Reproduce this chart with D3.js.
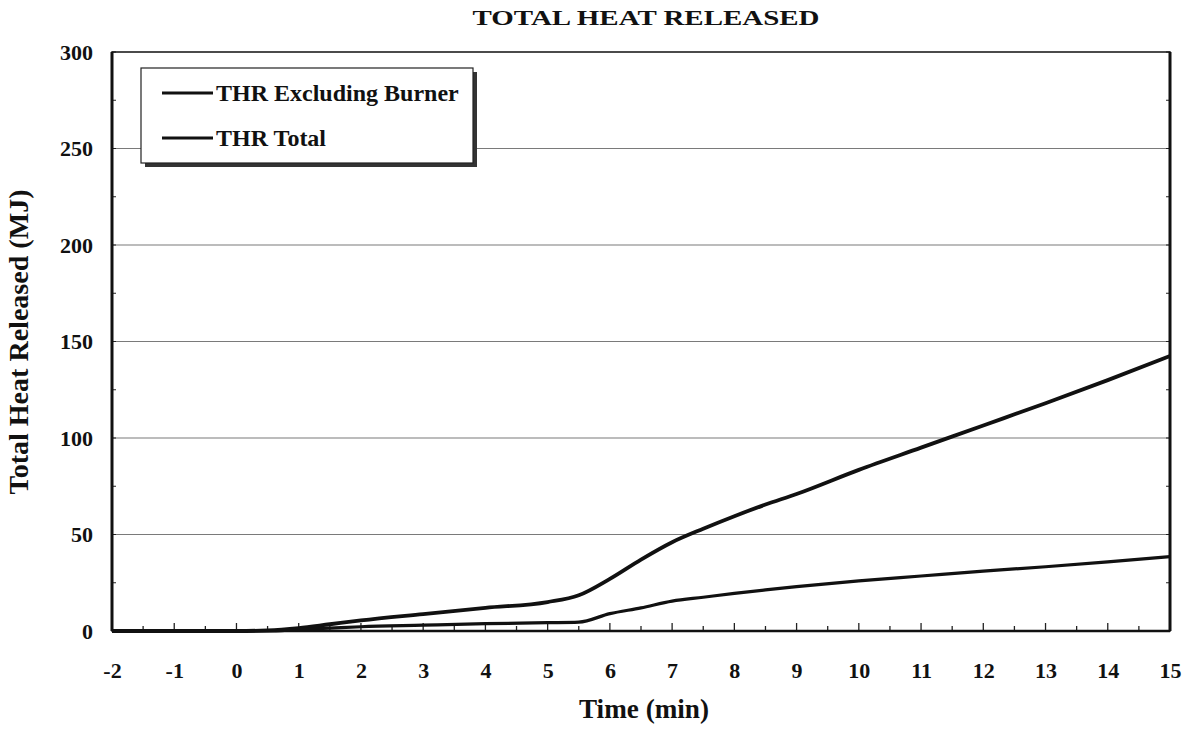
<!DOCTYPE html>
<html><head><meta charset="utf-8">
<script src="https://cdn.jsdelivr.net/npm/d3@7"></script>
<style>body{margin:0;background:#fff;} text{font-family:"Liberation Serif","Times New Roman",serif;font-weight:bold;fill:#111;}</style>
</head><body>
<svg id="c" width="1194" height="731"></svg>
<script>
const timeMin = [-2,-1.5,-1,-0.5,0,0.5,1,1.5,2,3,4,5,5.5,6,6.5,7,7.5,8,8.5,9,10,11,12,13,14,15];
const thrTotal = [0,0,0,0,0,0.3,1.5,3.5,5.5,8.8,12,15,18.5,27,37,46,53,59.5,65.5,71,83.5,95,106.5,118,130,142.5];
const thrExclBurner = [0,0,0,0,0,0,0.8,1.5,2.2,3,3.8,4.3,4.6,9,12,15.5,17.5,19.5,21.3,23,26,28.5,31,33.3,35.8,38.5];
const xTicks = [-2,-1,0,1,2,3,4,5,6,7,8,9,10,11,12,13,14,15];
const yTicks = [0,50,100,150,200,250,300];
const legendLabels = ["THR Excluding Burner","THR Total"];
const titleText = "TOTAL HEAT RELEASED";
const xLabel = "Time (min)";
const yLabel = "Total Heat Released (MJ)";

const svg = d3.select("#c");
const L=112,R=1170,T=52,B=631;
const x = d3.scaleLinear().domain([-2,15]).range([L,R]);
const y = d3.scaleLinear().domain([0,300]).range([B,T]);
const F = '"Liberation Serif","Times New Roman",serif';

// gridlines
svg.append("g").selectAll("line").data(yTicks.filter(v=>v>0&&v<300)).join("line")
  .attr("x1",L).attr("x2",R).attr("y1",d=>y(d)).attr("y2",d=>y(d))
  .attr("stroke","#7a7a7a").attr("stroke-width",1.2);

// minor ticks
const yMinor = d3.range(0,301,25);
svg.append("g").selectAll("line").data(yMinor).join("line")
  .attr("x1",L).attr("x2",L+4).attr("y1",d=>y(d)).attr("y2",d=>y(d)).attr("stroke","#222");
svg.append("g").selectAll("line").data(yMinor).join("line")
  .attr("x1",R).attr("x2",R-4).attr("y1",d=>y(d)).attr("y2",d=>y(d)).attr("stroke","#222");
const xMinor = d3.range(-2,15.01,0.5);
svg.append("g").selectAll("line").data(xMinor).join("line")
  .attr("x1",d=>x(d)).attr("x2",d=>x(d)).attr("y1",B).attr("y2",d=>B-(Number.isInteger(d)?8:5)).attr("stroke","#222").attr("stroke-width",1.3);

// frame
svg.append("rect").attr("x",L).attr("y",T).attr("width",R-L).attr("height",B-T)
  .attr("fill","none").attr("stroke","#111").attr("stroke-width",1.5);
svg.append("line").attr("x1",L).attr("x2",L).attr("y1",T).attr("y2",B).attr("stroke","#111").attr("stroke-width",3);
svg.append("line").attr("x1",R).attr("x2",R).attr("y1",T).attr("y2",B).attr("stroke","#111").attr("stroke-width",3);
svg.append("line").attr("x1",L).attr("x2",R).attr("y1",B).attr("y2",B).attr("stroke","#111").attr("stroke-width",2.5);

// axis tick labels
const xAxis = svg.append("g").attr("transform",`translate(0,${B})`)
  .call(d3.axisBottom(x).tickValues(xTicks).tickSize(0).tickPadding(31).tickFormat(d=>String(d)));
xAxis.select(".domain").remove();
xAxis.selectAll("text").style("font-size","22px").style("font-family",F).style("font-weight","bold");
const yAxis = svg.append("g").attr("transform",`translate(${L},0)`)
  .call(d3.axisLeft(y).tickValues(yTicks).tickSize(0).tickPadding(19));
yAxis.select(".domain").remove();
yAxis.selectAll("text").style("font-size","22px").style("font-family",F).style("font-weight","bold");

// lines
const line = d3.line().x((d,i)=>x(timeMin[i])).y(d=>y(d)).curve(d3.curveMonotoneX);
svg.append("path").datum(thrTotal).attr("d",line).attr("fill","none").attr("stroke","#111").attr("stroke-width",3.8);
svg.append("path").datum(thrExclBurner).attr("d",line).attr("fill","none").attr("stroke","#111").attr("stroke-width",3.2);

// titles
svg.append("text").attr("x",646).attr("y",25).attr("text-anchor","middle").style("font-size","21px")
  .attr("textLength",347).attr("lengthAdjust","spacingAndGlyphs").text(titleText);
svg.append("text").attr("x",644).attr("y",718).attr("text-anchor","middle").style("font-size","27px")
  .attr("textLength",130).attr("lengthAdjust","spacingAndGlyphs").text(xLabel);
svg.append("text").attr("transform","translate(28,342) rotate(-90)").attr("text-anchor","middle").style("font-size","27px")
  .attr("textLength",305).attr("lengthAdjust","spacingAndGlyphs").text(yLabel);

// legend
const lg = svg.append("g");
lg.append("rect").attr("x",145).attr("y",72).attr("width",332).attr("height",95).attr("fill","#333");
lg.append("rect").attr("x",141).attr("y",68).attr("width",332).attr("height",95).attr("fill","#fff").attr("stroke","#222").attr("stroke-width",1.2);
legendLabels.forEach((lab,i)=>{
  const yy = 93 + i*45;
  lg.append("line").attr("x1",162).attr("x2",213).attr("y1",yy).attr("y2",yy).attr("stroke","#111").attr("stroke-width",3.2);
  lg.append("text").attr("x",216).attr("y",yy+8).style("font-size","24px").text(lab);
});
</script>
</body></html>
